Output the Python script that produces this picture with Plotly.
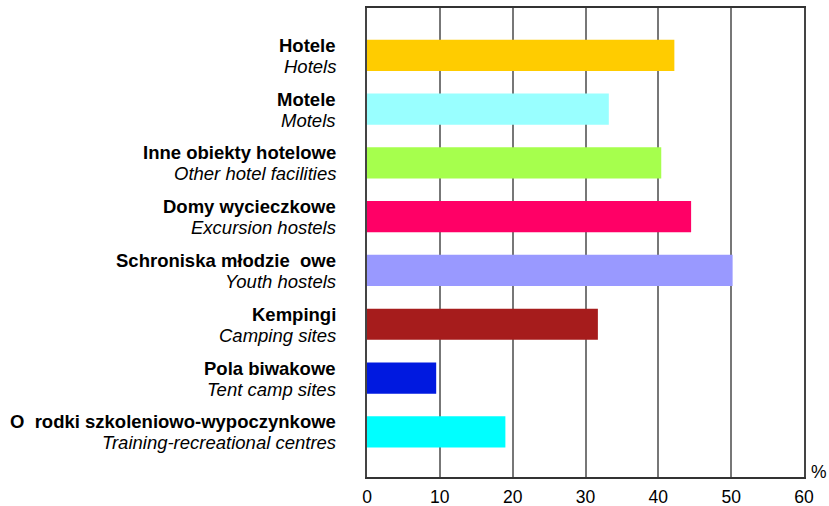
import plotly.graph_objects as go

pl_labels = ["Hotele", "Motele", "Inne obiekty hotelowe", "Domy wycieczkowe",
             "Schroniska młodzie  owe", "Kempingi", "Pola biwakowe",
             "O  rodki szkoleniowo-wypoczynkowe"]
en_labels = ["Hotels", "Motels", "Other hotel facilities", "Excursion hostels",
             "Youth hostels", "Camping sites", "Tent camp sites",
             "Training-recreational centres"]
values = [42.2, 33.2, 40.4, 44.5, 50.2, 31.7, 9.5, 19.0]
colors = ["#FFCC00", "#99FFFF", "#A6FF4D", "#FF0066", "#9999FF", "#A61C1C",
          "#0019E0", "#00FFFF"]
x_ticks = [0, 10, 20, 30, 40, 50, 60]

FONT = "Liberation Sans, Arial, sans-serif"
LBL = 18.5

fig = go.Figure(go.Bar(
    x=values, y=pl_labels, orientation="h",
    marker=dict(color=colors, line=dict(width=0)),
    width=0.58,
))

annotations = []
for p, e in zip(pl_labels, en_labels):
    annotations.append(dict(text=f"<b>{p}</b>", x=0, y=p, xref="paper", yref="y",
                            xanchor="right", yanchor="middle", xshift=-29, yshift=10,
                            showarrow=False, font=dict(size=LBL, family=FONT)))
    annotations.append(dict(text=f"<i>{e}</i>", x=0, y=p, xref="paper", yref="y",
                            xanchor="right", yanchor="middle", xshift=-29, yshift=-11,
                            showarrow=False, font=dict(size=LBL, family=FONT)))
annotations.append(dict(text="%", x=1.0, y=0, xref="paper", yref="paper",
                        xanchor="left", yanchor="bottom", xshift=5, yshift=-7,
                        showarrow=False, font=dict(size=17.5, family=FONT)))

fig.update_layout(
    width=829, height=506,
    margin=dict(l=367, r=25, t=8, b=29),
    paper_bgcolor="white", plot_bgcolor="white",
    font=dict(family=FONT, size=17, color="black"),
    showlegend=False,
    xaxis=dict(range=[0, 60], tickvals=x_ticks, showgrid=True, gridcolor="#777777",
               gridwidth=2, showline=True, linecolor="#333333", linewidth=2, mirror=True,
               ticks="", zeroline=False, tickfont=dict(size=17.5),
               ticklabelstandoff=3, automargin=False),
    yaxis=dict(range=[7.84, -0.88], showticklabels=False, automargin=False,
               showline=True, linecolor="#444444", linewidth=2, mirror=True,
               ticks="", showgrid=False),
    annotations=annotations,
)

fig.write_html(
    "out.html",
    config={"displayModeBar": False},
    post_script="document.body.style.margin='0';document.body.style.overflow='hidden';",
)
